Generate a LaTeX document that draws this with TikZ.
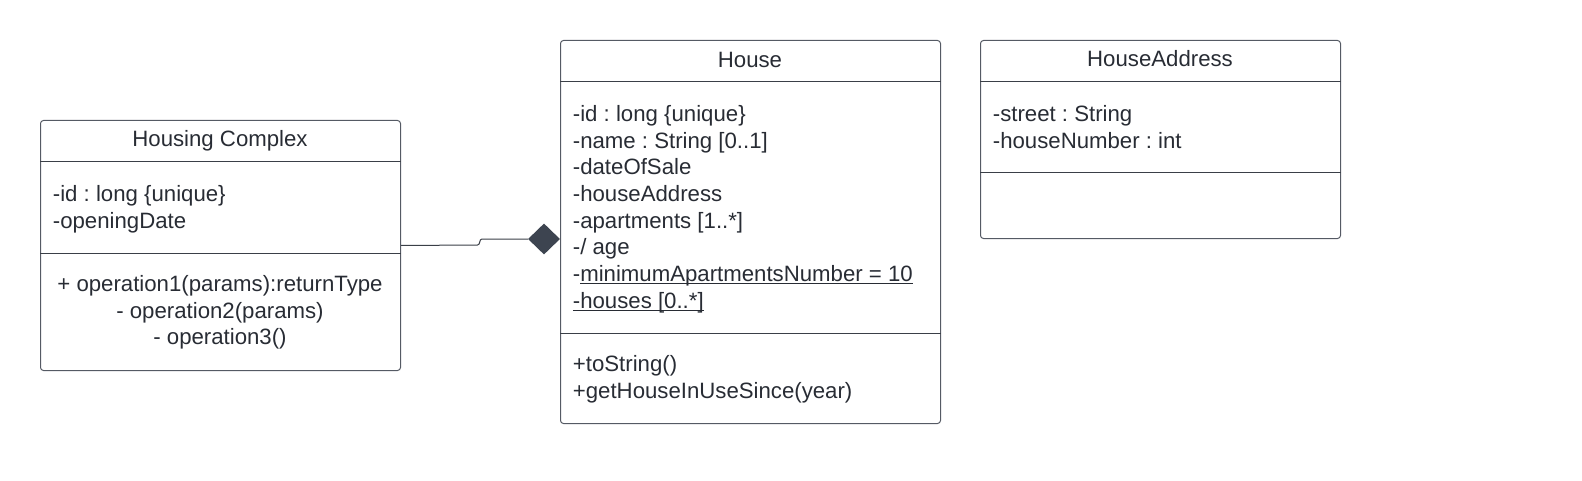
\documentclass[tikz,border=0pt]{standalone}
\usepackage{fontspec}
\setmainfont{Liberation Sans}
\usetikzlibrary{shapes.geometric}
\definecolor{txt}{RGB}{40,44,52}
\definecolor{bord}{RGB}{85,90,100}
\definecolor{divc}{RGB}{58,63,71}
\definecolor{dia}{RGB}{61,68,80}
\newcommand\myul[1]{\setbox0\hbox{#1}\rlap{\rule[-2.8pt]{\wd0}{1.1pt}}\box0}
\tikzset{
  classbox/.style={draw=bord, line width=1pt, rounded corners=3pt, inner sep=0pt, anchor=north west},
  divline/.style={draw=divc, line width=1pt},
  lbl/.style={inner sep=0pt, text=txt, yshift=-1.5pt, font=\fontsize{22.2}{26}\selectfont\frenchspacing},
  lft/.style={lbl, anchor=base west},
  ctr/.style={lbl, anchor=base},
  conn/.style={draw=divc, line width=1pt},
}
\begin{document}
\frenchspacing
\begin{tikzpicture}[x=1pt,y=-1pt]
\useasboundingbox (0,0) rectangle (1582,481);
% Housing Complex
\node[classbox, minimum width=360pt, minimum height=250pt] (hc) at (40,120) {};
\draw[divline] (hc.west |- 0,162) -- (hc.east |- 0,162);
\draw[divline] (hc.west |- 0,253) -- (hc.east |- 0,253);
\node[ctr] (hct) at (220,145) {Housing Complex};
\node[lft] (hca1) at (52.7,200.5) {-id : long \{unique\}};
\node[lft] (hca2) at (52.7,227) {-openingDate};
\node[ctr] (hco1) at (220,290) {+ operation1(params):returnType};
\node[ctr] (hco2) at (220,316.6) {- operation2(params)};
\node[ctr] (hco3) at (220,343.2) {- operation3()};
% House
\node[classbox, minimum width=380pt, minimum height=383pt] (h) at (560,40) {};
\draw[divline] (h.west |- 0,82) -- (h.east |- 0,82);
\draw[divline] (h.west |- 0,333) -- (h.east |- 0,333);
\node[ctr] (ht) at (750,66) {House};
\node[lft] (ha1) at (572.7,120) {-id : long \{unique\}};
\node[lft] (ha2) at (572.7,146.7) {-name : String [0..1]};
\node[lft] (ha3) at (572.7,173.3) {-dateOfSale};
\node[lft] (ha4) at (572.7,200) {-houseAddress};
\node[lft] (ha5) at (572.7,226.7) {-apartments [1..*]};
\node[lft] (ha6) at (572.7,253.3) {-/ age};
\node[lft] (ha7) at (572.7,280) {-\myul{minimumApartmentsNumber = 10}};
\node[lft] (ha8) at (572.7,306.7) {\myul{-houses [0..*]}};
\node[lft] (ho1) at (572.7,370) {+toString()};
\node[lft] (ho2) at (572.7,396.7) {+getHouseInUseSince(year)};
% HouseAddress
\node[classbox, minimum width=360pt, minimum height=198pt] (ha) at (980,40) {};
\draw[divline] (ha.west |- 0,82) -- (ha.east |- 0,82);
\draw[divline] (ha.west |- 0,173) -- (ha.east |- 0,173);
\node[ctr] (hat) at (1160,65.5) {HouseAddress};
\node[lft] (haa1) at (992.7,120) {-street : String};
\node[lft] (haa2) at (992.7,146.7) {-houseNumber : int};
% composition connector
\node[diamond, fill=dia, draw=none, inner sep=0pt, minimum width=32pt, minimum height=31pt] (dm) at (544,239) {};
\coordinate (j1) at (477.5,245);
\coordinate (j2) at (482,239);
\draw[conn] (hc.east) -- (j1) .. controls (480.5,245) and (479,239) .. (j2) -- (dm.west);
\end{tikzpicture}
\end{document}
